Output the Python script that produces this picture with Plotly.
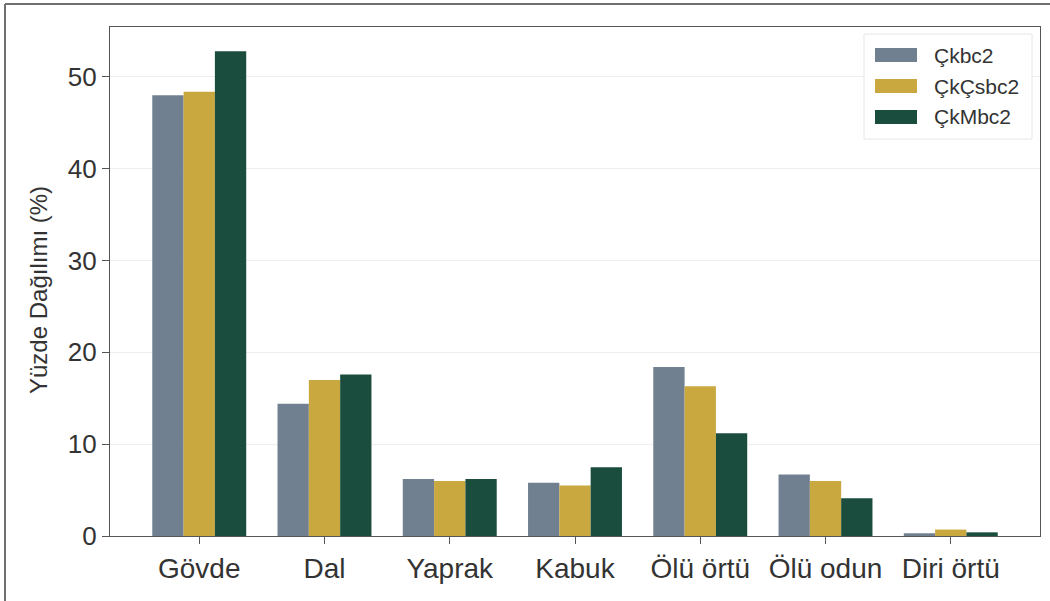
import plotly.graph_objects as go

categories = ["Gövde", "Dal", "Yaprak", "Kabuk", "Ölü örtü", "Ölü odun", "Diri örtü"]
series_names = ["Çkbc2", "ÇkÇsbc2", "ÇkMbc2"]
ckbc2 = [48.0, 14.4, 6.2, 5.8, 18.4, 6.7, 0.3]
ckcsbc2 = [48.4, 17.0, 6.0, 5.5, 16.3, 6.0, 0.7]
ckmbc2 = [52.8, 17.6, 6.2, 7.5, 11.2, 4.1, 0.4]
y_ticks = [0, 10, 20, 30, 40, 50]
colors = ["#708090", "#C9A840", "#1B4D3E"]
y_title = "Yüzde Dağılımı (%)"

W, H = 1050, 601
L, R, T, B = 110, 10, 27, 65
pw, ph = W - L - R, H - T - B

def px(x):
    return (x - L) / pw

def py(y):
    return (H - B - y) / ph

FONT = "Liberation Sans, Arial, sans-serif"

fig = go.Figure()
for name, vals, col in zip(series_names, [ckbc2, ckcsbc2, ckmbc2], colors):
    fig.add_trace(go.Bar(x=categories, y=vals, name=name, marker_color=col,
                         marker_line_width=0, showlegend=False))

ymax = max(max(ckbc2), max(ckcsbc2), max(ckmbc2)) * 1.05

shapes = []
annotations = []
# legend box
shapes.append(dict(type="rect", xref="paper", yref="paper",
                   x0=px(864), x1=px(1032), y0=py(139), y1=py(34),
                   line=dict(color="#E6E6E6", width=1), fillcolor="rgba(255,255,255,0.85)", layer="above"))
row_y = [55, 86, 117]
for name, col, ry in zip(series_names, colors, row_y):
    shapes.append(dict(type="rect", xref="paper", yref="paper",
                       x0=px(875), x1=px(917), y0=py(ry + 7), y1=py(ry - 7),
                       line=dict(width=0), fillcolor=col, layer="above"))
    annotations.append(dict(text=name, xref="paper", yref="paper", x=px(932), y=py(ry),
                            xanchor="left", yanchor="middle", showarrow=False,
                            font=dict(family=FONT, size=21, color="#333333")))
# y-axis title
annotations.append(dict(text=y_title, xref="paper", yref="paper", x=px(38), y=py(290),
                        xanchor="center", yanchor="middle", textangle=-90, showarrow=False,
                        font=dict(family=FONT, size=24, color="#333333")))
# outer frame (top and left edges of the cropped figure border)
shapes.append(dict(type="line", xref="paper", yref="paper", x0=px(5), x1=px(1060), y0=py(4), y1=py(4),
                   line=dict(color="#707070", width=2)))
shapes.append(dict(type="line", xref="paper", yref="paper", x0=px(5), x1=px(5), y0=py(4), y1=py(610),
                   line=dict(color="#707070", width=2)))

fig.update_layout(
    width=W, height=H,
    margin=dict(l=L, r=R, t=T, b=B),
    paper_bgcolor="white", plot_bgcolor="white",
    barmode="group", bargap=0.25, bargroupgap=0,
    font=dict(family=FONT, color="#333333"),
    shapes=shapes, annotations=annotations,
    showlegend=False,
)
fig.update_xaxes(type="category", range=[-0.7125, len(categories) - 1 + 0.7125],
                 showline=True, linecolor="#555555", linewidth=1.2, mirror=True,
                 ticks="outside", ticklen=7, tickcolor="#555555",
                 tickfont=dict(size=28, color="#333333"), showgrid=False)
fig.update_yaxes(range=[0, ymax], tickvals=y_ticks,
                 showline=True, linecolor="#555555", linewidth=1.2, mirror=True,
                 ticks="outside", ticklen=7, tickcolor="#555555",
                 tickfont=dict(size=26, color="#333333"),
                 showgrid=True, gridcolor="#EEEEEE", gridwidth=1, zeroline=False)

fig.write_html("out.html", config={"displayModeBar": False},
               post_script="document.body.style.margin='0';")
